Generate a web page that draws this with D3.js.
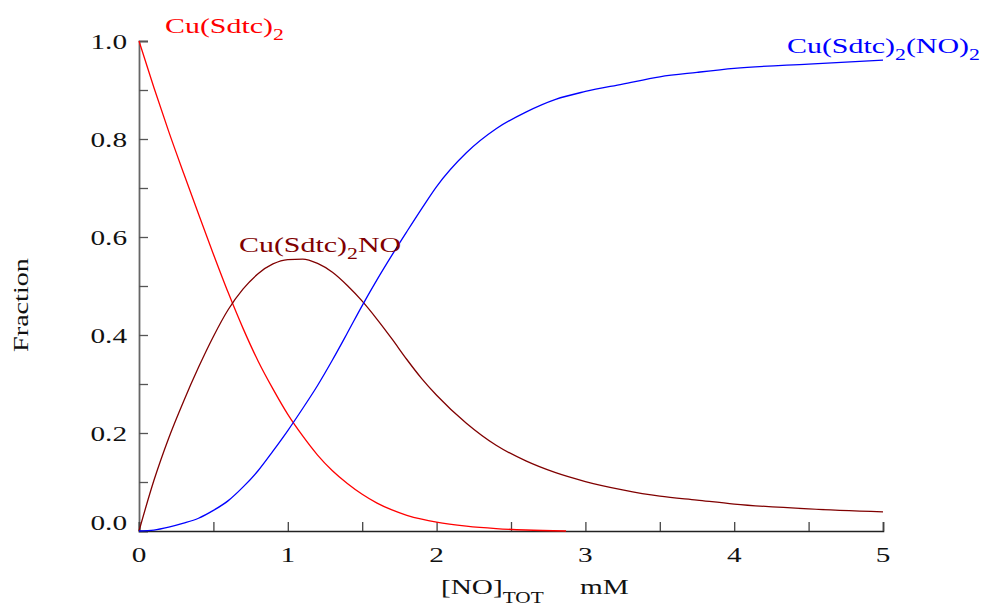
<!DOCTYPE html>
<html>
<head>
<meta charset="utf-8">
<script src="https://cdn.jsdelivr.net/npm/d3@7"></script>
<style>
  body { margin: 0; background: #fff; }
  svg { display: block; }
  text { font-family: "Liberation Serif", "Times New Roman", serif; }
</style>
</head>
<body>
<div id="chart"></div>
<script>
// concentration of NO, mM
var xVals = [0, 0.1, 0.2, 0.3, 0.4, 0.5, 0.6, 0.7, 0.8, 0.9, 1.0, 1.1, 1.2, 1.3, 1.4, 1.5, 1.6, 1.7, 1.8, 1.9,
             2.0, 2.2, 2.4, 2.6, 2.8, 3.0, 3.25, 3.5, 3.75, 4.0, 4.5, 5.0];

// Cu(Sdtc)2 (ends where it reaches 0)
var xFree = [0, 0.1, 0.2, 0.3, 0.4, 0.5, 0.6, 0.7, 0.8, 0.9, 1.0, 1.1, 1.2, 1.3, 1.4, 1.5, 1.6, 1.7, 1.8, 1.9,
             2.0, 2.2, 2.4, 2.6, 2.87];
var free = [1.0, 0.905, 0.815, 0.73, 0.647, 0.565, 0.486, 0.413, 0.347, 0.29, 0.238, 0.194, 0.155, 0.123, 0.097,
            0.075, 0.057, 0.043, 0.032, 0.024, 0.018, 0.010, 0.005, 0.002, 0.0];

// Cu(Sdtc)2NO
var mono = [0, 0.103, 0.19, 0.265, 0.334, 0.397, 0.452, 0.494, 0.525, 0.545, 0.554, 0.555, 0.546, 0.528, 0.501,
            0.469, 0.432, 0.392, 0.350, 0.311, 0.277, 0.220, 0.175, 0.143, 0.119, 0.101, 0.084, 0.071, 0.063,
            0.055, 0.045, 0.039];

// Cu(Sdtc)2(NO)2
var di = [0, 0.002, 0.008, 0.016, 0.026, 0.042, 0.062, 0.09, 0.123, 0.163, 0.205, 0.25, 0.297, 0.349, 0.404,
          0.460, 0.513, 0.563, 0.611, 0.658, 0.703, 0.772, 0.821, 0.855, 0.881, 0.897, 0.912, 0.927, 0.936,
          0.944, 0.953, 0.961];

var xTicks = [0, 1, 2, 3, 4, 5];
var yTicks = [0, 0.2, 0.4, 0.6, 0.8, 1.0];

var width = 991,
    height = 608,
    stretch = 1.33;

var svg = d3.select("#chart").append("svg")
    .attr("width", width)
    .attr("height", height);

var x = d3.scaleLinear().domain([0, 5]).range([139, 883]);
var y = d3.scaleLinear().domain([0, 1]).range([531, 41]);

// axes, ticks point inward
var yAxis = d3.axisLeft(y)
    .tickValues(d3.range(0, 1.0001, 0.1))
    .tickSize(-9)
    .tickFormat("");
var xAxis = d3.axisBottom(x)
    .tickValues(d3.range(0, 5.0001, 0.5))
    .tickSize(-9)
    .tickFormat("");

var gy = svg.append("g").attr("transform", "translate(" + x(0) + ",0)").call(yAxis);
gy.select(".domain").attr("stroke", "#666").attr("stroke-width", 1.8);
gy.selectAll(".tick line").attr("stroke", "#555").attr("stroke-width", 1.3);

var gx = svg.append("g").attr("transform", "translate(0," + y(0) + ")").call(xAxis);
gx.select(".domain").attr("stroke", "#222").attr("stroke-width", 1.6);
gx.selectAll(".tick line").attr("stroke", "#444").attr("stroke-width", 1.3);

// tick labels (wide serif look)
svg.selectAll(".ylab").data(yTicks).enter().append("text")
    .attr("class", "ylab")
    .attr("text-anchor", "end")
    .attr("font-size", 22)
    .attr("fill", "#111")
    .attr("transform", function(d) {
        var yy = d === 0 ? 530 : y(d) + 8;
        return "translate(127," + yy + ") scale(" + stretch + ",1)";
    })
    .text(function(d) { return d.toFixed(1); });

svg.selectAll(".xlab").data(xTicks).enter().append("text")
    .attr("class", "xlab")
    .attr("text-anchor", "middle")
    .attr("font-size", 22)
    .attr("fill", "#111")
    .attr("transform", function(d) {
        return "translate(" + x(d) + ",562) scale(" + stretch + ",1)";
    })
    .text(function(d) { return d; });

// axis titles
var xt = svg.append("text")
    .attr("font-size", 22)
    .attr("fill", "#111")
    .attr("transform", "translate(441,594) scale(" + stretch + ",1)");
xt.append("tspan").text("[NO]");
xt.append("tspan").attr("font-size", 16).attr("dy", 9).text("TOT");

svg.append("text")
    .attr("font-size", 22)
    .attr("fill", "#111")
    .attr("transform", "translate(580,594) scale(" + stretch + ",1)")
    .text("mM");

svg.append("text")
    .attr("font-size", 22)
    .attr("fill", "#111")
    .attr("text-anchor", "middle")
    .attr("transform", "translate(28,305) rotate(-90) scale(" + 1.28 + ",1)")
    .text("Fraction");

// curves
var line = d3.line()
    .curve(d3.curveMonotoneX)
    .x(function(d) { return x(d[0]); })
    .y(function(d) { return y(d[1]); });

var series = [
    { name: "free", xs: xFree, ys: free, color: "#ff0000" },
    { name: "mono", xs: xVals, ys: mono, color: "#800000" },
    { name: "di", xs: xVals, ys: di, color: "#0000ff" }
];

svg.selectAll(".curve").data(series).enter().append("path")
    .attr("class", "curve")
    .attr("fill", "none")
    .attr("stroke", function(d) { return d.color; })
    .attr("stroke-width", 1.3)
    .attr("d", function(d) {
        return line(d.xs.map(function(v, i) { return [v, d.ys[i]]; }));
    });

// curve labels
function label(px, py, color, parts) {
    var t = svg.append("text")
        .attr("font-size", 22)
        .attr("fill", color)
        .attr("transform", "translate(" + px + "," + py + ") scale(" + 1.36 + ",1)");
    parts.forEach(function(p) {
        if (p.sub) {
            t.append("tspan").attr("font-size", 16).attr("dy", 7).text(p.s);
        } else {
            t.append("tspan").attr("dy", p.up ? -7 : 0).text(p.s);
        }
    });
}

label(165, 33, "#ff0000", [{ s: "Cu(Sdtc)" }, { s: "2", sub: true }]);
label(239, 252, "#800000", [{ s: "Cu(Sdtc)" }, { s: "2", sub: true }, { s: "NO", up: true }]);
label(787, 53, "#0000ff", [{ s: "Cu(Sdtc)" }, { s: "2", sub: true }, { s: "(NO)", up: true }, { s: "2", sub: true }]);
</script>
</body>
</html>
